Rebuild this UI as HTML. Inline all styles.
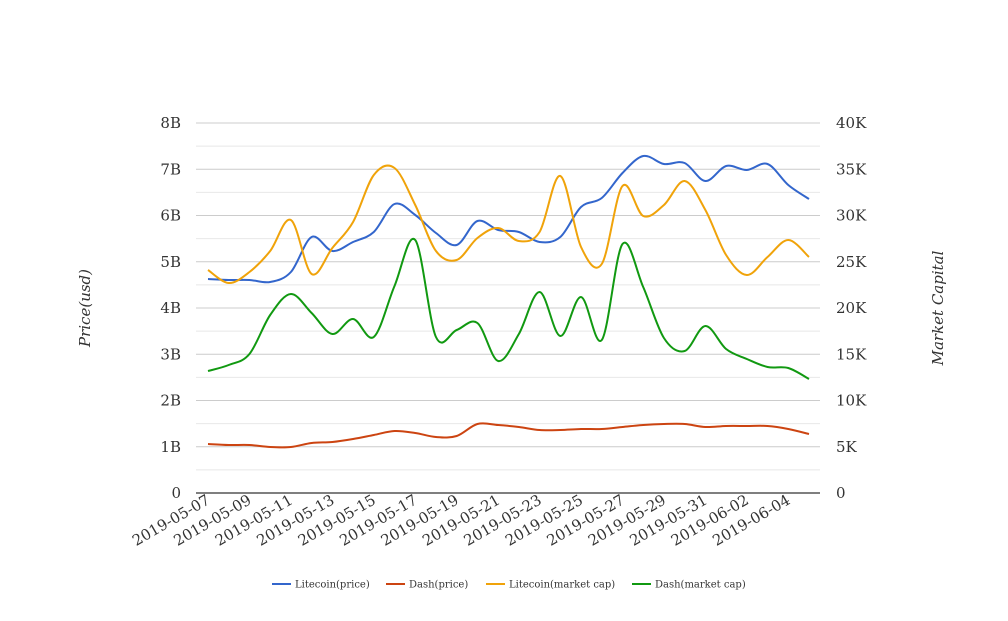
<!DOCTYPE html>
<html><head><meta charset="utf-8"><style>
body{margin:0;background:#fff;}
svg text{font-family:"DejaVu Serif","Liberation Serif",serif;fill:#333;}
</style></head><body>
<svg id="s" width="1008" height="616" xmlns="http://www.w3.org/2000/svg"></svg>
<script>
const s=document.getElementById('s');let h='';
const x0=208,dx=20.724;
for(let i=0;i<=16;i++){const y=493-i*23.125;if(i==0)continue;
h+=`<line x1="196" x2="820" y1="${y}" y2="${y}" stroke="${i%2?'#e8e8e8':'#cccccc'}" stroke-width="1"/>`;}
h+=`<line x1="196" x2="820" y1="493" y2="493" stroke="#333" stroke-width="1.3"/>`;
const L=['0','1B','2B','3B','4B','5B','6B','7B','8B'],R=['0','5K','10K','15K','20K','25K','30K','35K','40K'];
for(let i=0;i<=8;i++){const y=493-i*46.25+5;
h+=`<text x="181" y="${y}" font-size="15" text-anchor="end">${L[i]}</text>`;
h+=`<text x="836" y="${y}" font-size="15">${R[i]}</text>`;}
const d=['05-07','05-09','05-11','05-13','05-15','05-17','05-19','05-21','05-23','05-25','05-27','05-29','05-31','06-02','06-04'];
d.forEach((t,k)=>{const x=x0+k*2*dx;h+=`<text transform="translate(${x+3},503) rotate(-30)" font-size="15" text-anchor="end">2019-${t}</text>`;});
h+=`<text transform="translate(90,308) rotate(-90)" font-size="15" font-style="italic" text-anchor="middle">Price(usd)</text>`;
h+=`<text transform="translate(943,308) rotate(-90)" font-size="15" font-style="italic" text-anchor="middle">Market Capital</text>`;
const S=[
['#3366cc',[279,280,280,282,272,237,251,242,232,204,215,233,245,221,230,232,242,237,207,198,173,156,164,163,181,166,170,164,185,199]],
['#cc4411',[444,445,445,447,447,443,442,439,435,431,433,437,436,424,425,427,430,430,429,429,427,425,424,424,427,426,426,426,429,434]],
['#f0a30a',[270,283,272,251,220,274,248,222,175,168,205,251,260,238,228,241,232,176,247,264,186,216,205,181,210,255,275,257,240,257]],
['#119911',[371,365,354,315,294,313,334,319,337,286,240,337,330,323,361,334,292,336,297,340,244,287,338,351,326,349,359,367,368,379]]];
S.forEach(([c,v])=>{const p=v.map((y,i)=>[x0+i*dx,y]);let q=`M${p[0][0]},${p[0][1]}`;
for(let i=0;i<p.length-1;i++){const a=p[i-1]||p[i],b=p[i],e=p[i+1],f=p[i+2]||e;
q+=` C${b[0]+(e[0]-a[0])/6},${b[1]+(e[1]-a[1])/6} ${e[0]-(f[0]-b[0])/6},${e[1]-(f[1]-b[1])/6} ${e[0]},${e[1]}`;}
h+=`<path d="${q}" fill="none" stroke="${c}" stroke-width="2"/>`;});
const lg=[['Litecoin(price)','#3366cc',272],['Dash(price)','#cc4411',386],['Litecoin(market cap)','#f0a30a',486],['Dash(market cap)','#119911',632]];
lg.forEach(([t,c,x])=>{h+=`<line x1="${x}" x2="${x+19}" y1="584" y2="584" stroke="${c}" stroke-width="2"/><text x="${x+23}" y="587.5" font-size="10">${t}</text>`;});
s.innerHTML=h;
</script>
</body></html>
